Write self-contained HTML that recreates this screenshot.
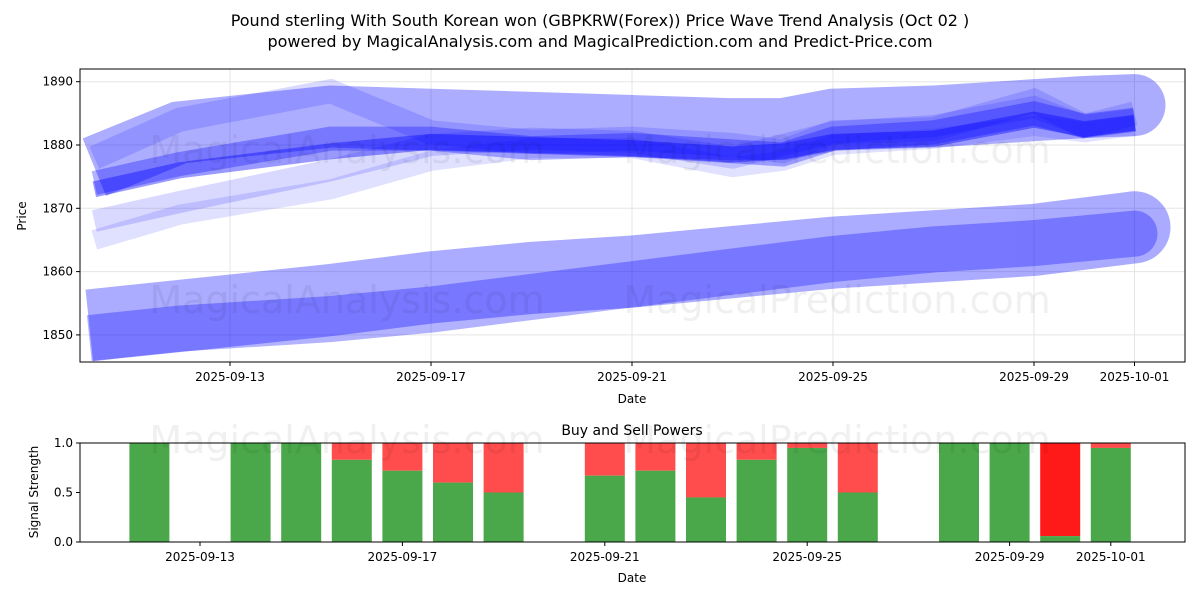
<!DOCTYPE html>
<html><head><meta charset="utf-8"><style>
body{margin:0;background:#fff;font-family:"Liberation Sans","DejaVu Sans",sans-serif}
svg text{font-family:"DejaVu Sans","Liberation Sans",sans-serif}
</style></head><body>
<svg id="c" width="1200" height="600" xmlns="http://www.w3.org/2000/svg">
<rect width="1200" height="600" fill="#fff"/>
<text x="600" y="26" text-anchor="middle" font-size="16">Pound sterling With South Korean won (GBPKRW(Forex)) Price Wave Trend Analysis (Oct 02 )</text>
<text x="600" y="47" text-anchor="middle" font-size="16">powered by MagicalAnalysis.com and MagicalPrediction.com and Predict-Price.com</text>
<g id="topg"></g><g id="botg"></g>
</svg>
<script>
// ---- data ----
const priceTicks=[1850,1860,1870,1880,1890];
const dateTicks=["2025-09-13","2025-09-17","2025-09-21","2025-09-25","2025-09-29","2025-10-01"];
const dateTickDays=[13,17,21,25,29,31];
const waveDays=[10.3,12,15,17,19,21,23,24,25,27,29,30,31];
const waveA=[1876.5,1882,1884.5,1884,1883.5,1883,1882.5,1882.5,1884,1884.5,1885.5,1886,1886.3];
const waveB=[1873,1876,1879,1880.5,1880,1879.5,1878.5,1879,1880.5,1881,1884,1882.5,1883.5];
const waveC=[1874,1877,1881,1881,1879.5,1880,1879,1878.5,1881,1882,1885,1883,1884];
const waveD=[1868,1871,1876,1880,1881,1880.5,1878,1880,1882,1883,1886,1883,1884];
const waveE=[1865,1869,1873,1877.5,1879.5,1879.5,1876.5,1877.5,1880,1881,1883,1882,1883];
const waveF=[1878,1884,1888.5,1882,1880.5,1881,1880,1879,1882,1882.5,1887,1883,1885];
const lowDays=[10.2,12,15,17,19,21,23,25,27,29,31];
const lowLight=[1851.5,1853,1855.5,1857.5,1859,1860,1861.5,1863,1864,1865,1867];
const lowDark=[1849.5,1851,1852.5,1854,1856,1858,1860,1862,1863.5,1864.5,1866];
const barDays=[12,14,15,16,17,18,19,21,22,23,24,25,26,28,29,30,31];
const buyVals=[1,1,1,0.83,0.72,0.6,0.5,0.67,0.72,0.45,0.83,0.95,0.5,1,1,0.06,0.95];
const sigTicks=[0,0.5,1];

const NS="http://www.w3.org/2000/svg";
function mk(p,t,a){const e=document.createElementNS(NS,t);for(const k in a)e.setAttribute(k,a[k]);p.appendChild(e);return e;}
const topG=document.getElementById('topg'),botG=document.getElementById('botg');
const L=80,R=1185,T=69,B=362;
const xT=d=>230+(d-13)*50.25;
const yT=v=>145-(v-1880)*6.33;
priceTicks.forEach(v=>{const g=mk(topG,'line',{x1:L,x2:R,y1:yT(v),y2:yT(v),stroke:'#e5e5e5'});

});
dateTickDays.forEach(d=>{const g=mk(topG,'line',{x1:xT(d),x2:xT(d),y1:T,y2:B,stroke:'#e5e5e5'});

});
function pts(days,vals){return days.map((d,i)=>xT(d)+','+yT(vals[i])).join(' ');}
function wave(days,vals,w,op,name,endcap){
const g=mk(topG,'g',{opacity:op});


mk(g,'polyline',{points:pts(days,vals),fill:'none',stroke:'#0000ff','stroke-width':w,'stroke-linecap':'butt','stroke-linejoin':'miter'});
if(endcap){const n=days.length-1;mk(g,'circle',{cx:xT(days[n]),cy:yT(vals[n]),r:w/2,fill:'#0000ff'});}}
wave(lowDays,lowLight,72,0.33,'lower-wave-light',true);
wave(lowDays,lowDark,46,0.3,'lower-wave-dark',true);
wave(waveDays,waveA,62,0.32,'upper-wave-wide',true);
wave(waveDays,waveF,24,0.15,'upper-wave-f');
wave(waveDays,waveD,22,0.15,'upper-wave-d');
wave(waveDays,waveE,20,0.12,'upper-wave-e');
wave(waveDays,waveC,24,0.3,'upper-wave-c');
wave(waveDays,waveB,16,0.4,'upper-wave-b');
[[347,150],[837,150],[347,300],[837,300]].forEach((p,i)=>{const t=mk(topG,'text',{x:p[0],y:p[1]+13,'text-anchor':'middle','font-size':38,fill:'#000','fill-opacity':0.06});
t.textContent=i%2?'MagicalPrediction.com':'MagicalAnalysis.com';

});
let fr=mk(topG,'rect',{x:L,y:T,width:R-L,height:B-T,fill:'none',stroke:'#000'});


priceTicks.forEach(v=>{mk(topG,'line',{x1:L-4,x2:L,y1:yT(v),y2:yT(v),stroke:'#000'});
const t=mk(topG,'text',{x:L-7,y:yT(v)+4,'text-anchor':'end','font-size':12});t.textContent=v;

});
dateTicks.forEach((s,i)=>{const x=xT(dateTickDays[i]);mk(topG,'line',{x1:x,x2:x,y1:B,y2:B+4,stroke:'#000'});
const t=mk(topG,'text',{x:x,y:B+19,'text-anchor':'middle','font-size':12});t.textContent=s;

});
let t1=mk(topG,'text',{x:632,y:403,'text-anchor':'middle','font-size':12});t1.textContent='Date';


let t2=mk(topG,'text',{x:26,y:216,'text-anchor':'middle','font-size':12,transform:'rotate(-90 26 216)'});t2.textContent='Price';



const bT=443,bB=542;
const xB=d=>200+(d-13)*50.6;
const yB=v=>bB-v*(bB-bT);
let bt=mk(botG,'text',{x:632,y:435,'text-anchor':'middle','font-size':14});bt.textContent='Buy and Sell Powers';


barDays.forEach((d,i)=>{const x=xB(d)-20,b=buyVals[i];
const s=mk(botG,'rect',{x:x,y:bT,width:40,height:yB(b)-bT,fill:i==15?'#ff1a1a':'#ff4d4d'});


const g=mk(botG,'rect',{x:x,y:yB(b),width:40,height:bB-yB(b),fill:'#4aa84a'});

});
[[347,440],[837,440]].forEach((p,i)=>{const t=mk(botG,'text',{x:p[0],y:p[1]+13,'text-anchor':'middle','font-size':38,fill:'#000','fill-opacity':0.06});
t.textContent=i?'MagicalPrediction.com':'MagicalAnalysis.com';

});
let fr2=mk(botG,'rect',{x:L,y:bT,width:R-L,height:bB-bT,fill:'none',stroke:'#000'});


sigTicks.forEach(v=>{mk(botG,'line',{x1:L-4,x2:L,y1:yB(v),y2:yB(v),stroke:'#000'});
const t=mk(botG,'text',{x:L-7,y:yB(v)+4,'text-anchor':'end','font-size':12});t.textContent=v.toFixed(1);

});
dateTicks.forEach((s,i)=>{const x=xB(dateTickDays[i]);mk(botG,'line',{x1:x,x2:x,y1:bB,y2:bB+4,stroke:'#000'});
const t=mk(botG,'text',{x:x,y:bB+19,'text-anchor':'middle','font-size':12});t.textContent=s;

});
let t3=mk(botG,'text',{x:632,y:582,'text-anchor':'middle','font-size':12});t3.textContent='Date';


let t4=mk(botG,'text',{x:38,y:492,'text-anchor':'middle','font-size':12,transform:'rotate(-90 38 492)'});t4.textContent='Signal Strength';


</script>
</body></html>
